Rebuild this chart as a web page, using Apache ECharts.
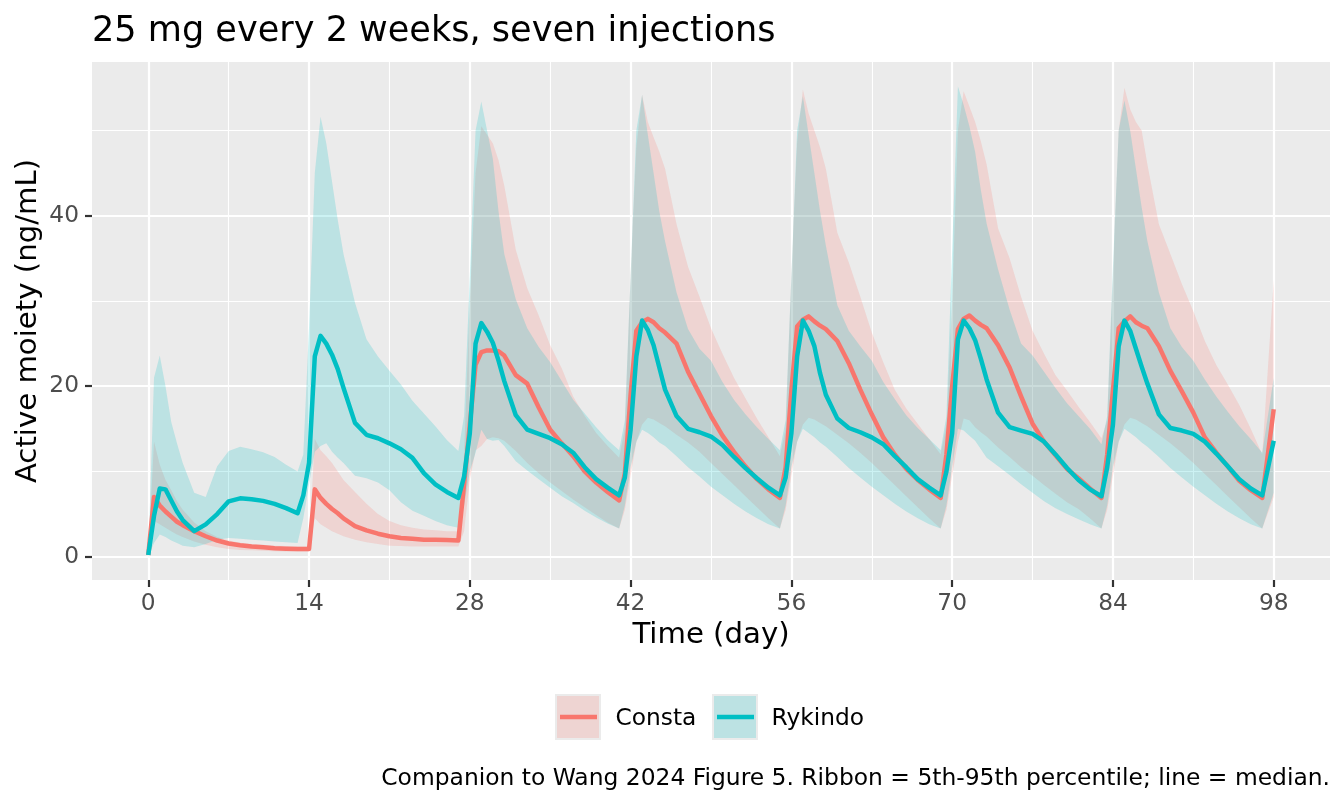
<!DOCTYPE html>
<html><head><meta charset="utf-8">
<script src="https://cdn.jsdelivr.net/npm/echarts@6/dist/echarts.min.js"></script>
<style>html,body{margin:0;padding:0;background:#fff}#c{width:1344px;height:806px}</style>
</head><body><div id="c"></div>
<script>
// ---- data ----
const times = [0,0.5,1,1.5,2,2.5,3,4,5,6,7,8,9,10,11,12,13,13.5,
 14,14.5,15,15.5,16,16.5,17,18,19,20,21,22,23,24,25,26,27,27.5,
 28,28.5,29,29.5,30,30.5,31,32,33,34,35,36,37,38,39,40,41,41.5,
 42,42.5,43,43.5,44,44.5,45,46,47,48,49,50,51,52,53,54,55,55.5,
 56,56.5,57,57.5,58,58.5,59,60,61,62,63,64,65,66,67,68,69,69.5,
 70,70.5,71,71.5,72,72.5,73,74,75,76,77,78,79,80,81,82,83,83.5,
 84,84.5,85,85.5,86,86.5,87,88,89,90,91,92,93,94,95,96,97,98];

const constaMedian = [0.2,7.0,6.0,5.3,4.7,4.1,3.7,3.0,2.4,1.9,1.55,1.35,1.2,1.1,1.0,0.95,0.9,0.9,
 0.9,7.9,6.9,6.2,5.6,5.1,4.5,3.6,3.1,2.7,2.4,2.2,2.1,2.0,2.0,1.95,1.9,8.5,
 15.5,22.5,24.0,24.2,24.2,24.1,23.6,21.3,20.3,17.5,14.9,13.3,11.8,10.0,8.7,7.6,6.6,9.8,
 19.0,26.5,27.5,27.9,27.5,26.8,26.3,25.0,21.7,19.1,16.5,14.2,12.3,10.6,9.1,7.9,6.9,10.5,
 19.5,27.0,27.8,28.2,27.6,27.1,26.7,25.3,22.7,19.6,16.7,14.0,12.0,10.3,9.0,7.9,6.9,12.0,
 20.0,26.7,27.9,28.3,27.7,27.2,26.8,24.8,22.2,18.8,15.6,13.5,11.9,10.3,9.2,8.0,6.9,12.0,
 19.5,26.8,27.6,28.2,27.5,27.1,26.8,24.7,21.8,19.4,16.9,14.0,12.2,10.6,8.9,7.8,6.9,17.3];
const constaLow = [0.0,4.2,3.8,3.4,3.0,2.6,2.3,1.8,1.4,1.1,0.9,0.8,0.75,0.7,0.65,0.6,0.6,0.6,
 0.6,4.5,3.8,3.4,3.0,2.7,2.4,2.0,1.7,1.5,1.3,1.25,1.2,1.2,1.2,1.2,1.2,3.0,
 9.0,12.5,13.0,13.8,14.0,13.9,13.6,12.4,11.0,9.8,8.7,7.7,6.7,5.8,4.9,4.0,3.3,5.5,
 9.5,13.5,15.5,16.3,16.1,15.7,15.3,14.3,13.4,12.3,11.0,9.7,8.4,7.1,5.8,4.5,3.3,5.5,
 9.5,13.5,15.5,16.3,16.1,15.7,15.3,14.3,13.3,12.2,11.0,9.7,8.4,7.1,5.8,4.5,3.3,5.5,
 9.5,13.5,16.2,16.0,15.2,14.6,14.1,12.8,11.7,10.5,9.5,8.4,7.4,6.4,5.6,4.5,3.3,5.5,
 9.5,13.5,15.5,16.3,16.1,15.7,15.3,14.3,13.3,12.2,11.0,9.7,8.4,7.1,5.8,4.5,3.3,7.0];
const constaHigh = [0.2,13.5,10.8,9.0,7.8,6.5,5.5,4.0,3.0,2.3,1.9,1.65,1.5,1.4,1.3,1.25,1.2,1.2,
 1.2,13.8,12.5,11.8,11.0,10.0,9.0,7.6,6.2,5.0,4.2,3.7,3.4,3.2,3.1,3.0,3.0,12.0,
 30.0,45.0,50.5,49.5,48.5,46.5,43.5,36.0,31.5,28.3,24.8,22.1,18.8,16.5,14.5,13.0,11.6,15.0,
 33.0,48.0,54.2,51.0,49.2,47.5,45.5,39.0,34.0,30.5,26.8,23.8,21.0,18.6,16.2,14.0,11.8,15.0,
 33.0,48.5,54.8,52.0,50.0,48.0,45.5,38.0,34.5,30.5,26.3,22.8,19.6,17.4,15.6,13.8,12.0,15.5,
 30.0,50.0,54.6,52.8,51.0,48.7,46.0,38.5,35.0,30.5,26.5,23.8,21.3,19.5,17.6,15.8,13.9,16.0,
 33.0,50.0,55.0,52.5,51.0,50.0,46.0,39.0,35.5,32.0,28.8,25.3,22.5,20.2,17.8,15.0,12.0,32.5];

const rykindoMedian = [0.2,4.8,8.0,7.9,6.6,5.3,4.3,3.0,3.8,5.0,6.5,6.85,6.75,6.55,6.2,5.7,5.1,7.2,
 11.0,23.5,25.9,25.0,23.7,22.0,19.8,15.7,14.3,13.9,13.3,12.6,11.6,9.8,8.5,7.6,6.9,9.4,
 14.5,25.0,27.4,26.4,25.1,23.0,20.6,16.6,14.9,14.4,13.9,13.2,12.2,10.5,9.1,8.1,7.2,9.3,
 14.9,23.5,27.7,26.6,24.8,22.2,19.6,16.5,15.0,14.6,14.1,13.1,11.7,10.4,9.2,8.1,7.2,9.3,
 14.5,23.5,27.7,26.5,24.7,21.5,19.0,16.2,15.1,14.6,14.0,13.2,11.8,10.5,9.1,8.1,7.2,10.0,
 14.5,25.5,27.7,26.8,25.4,23.2,20.8,16.9,15.2,14.8,14.4,13.5,12.0,10.4,9.0,7.9,7.1,10.5,
 15.5,24.7,27.7,26.5,24.4,22.3,20.3,16.7,15.1,14.8,14.4,13.5,12.1,10.6,9.1,8.0,7.2,13.6];
const rykindoLow = [0.0,1.6,2.6,2.3,1.9,1.6,1.3,1.1,1.5,2.0,2.2,2.1,2.0,1.9,1.8,1.7,1.6,4.5,
 8.5,12.3,13.0,13.3,12.3,11.6,11.0,9.5,9.2,8.7,7.8,6.4,5.4,4.8,4.2,3.7,3.4,6.0,
 10.0,12.2,14.9,13.8,13.6,13.7,13.0,11.2,10.1,9.1,8.1,7.1,6.3,5.4,4.6,3.9,3.3,6.0,
 10.5,13.5,14.9,14.5,14.0,13.4,13.0,11.8,10.5,9.4,8.2,7.2,6.2,5.3,4.5,3.8,3.3,6.0,
 10.5,13.5,15.0,14.5,14.0,13.4,12.9,11.7,10.4,9.3,8.2,7.2,6.2,5.3,4.5,3.8,3.3,6.0,
 10.5,15.0,14.8,14.2,13.6,12.6,11.6,10.6,9.6,8.5,7.5,6.5,5.7,5.0,4.4,3.8,3.3,6.0,
 10.5,13.5,15.0,14.5,14.0,13.4,12.9,11.7,10.4,9.3,8.2,7.2,6.2,5.3,4.5,3.8,3.3,7.5];
const rykindoHigh = [0.2,21.0,23.6,20.0,15.8,13.3,11.0,7.5,7.0,10.6,12.4,12.9,12.6,12.25,11.7,10.8,10.0,12.0,
 27.0,45.0,51.6,48.5,44.0,39.5,35.5,29.8,25.5,23.5,21.8,20.2,18.3,16.8,15.3,13.7,12.4,16.5,
 33.0,50.0,53.4,50.0,46.7,40.5,35.5,30.2,26.8,24.6,22.8,20.6,18.4,16.8,15.2,13.7,12.5,16.0,
 33.0,50.0,54.2,49.5,45.0,40.5,37.0,31.0,26.7,24.4,23.0,20.5,18.4,16.7,15.2,13.8,12.5,16.0,
 33.0,50.0,54.0,49.5,45.0,40.5,36.5,29.5,26.5,24.7,23.0,20.5,18.5,16.6,15.1,13.8,12.5,16.5,
 36.0,55.2,53.0,50.5,47.5,43.0,39.1,33.7,29.0,25.0,23.6,21.7,19.8,18.0,16.5,15.0,13.2,16.5,
 34.0,50.0,53.5,50.0,45.5,41.0,37.0,31.0,26.8,24.6,23.0,20.8,18.8,17.0,15.3,13.8,12.2,21.0];

const seriesNames = ['Consta', 'Rykindo'];
const xMajorTicks = [0, 14, 28, 42, 56, 70, 84, 98];
const xMinorTicks = [7, 21, 35, 49, 63, 77, 91];
const yMajorTicks = [0, 20, 40];
const yMinorTicks = [10, 30, 50];

const titleText = '25 mg every 2 weeks, seven injections';
const xTitle = 'Time (day)';
const yTitle = 'Active moiety (ng/mL)';
const captionText = 'Companion to Wang 2024 Figure 5. Ribbon = 5th-95th percentile; line = median.';

// ---- styling ----
const FONT = 'DejaVu Sans';
const lineColors = ['#F8766D', '#00BFC4'];
const ribbonColors = ['rgba(248,118,109,0.2)', 'rgba(0,191,196,0.2)'];

function pairs(ys) { return times.map((t, i) => [t, ys[i]]); }
function triples(lo, hi) { return times.map((t, i) => [t, lo[i], hi[i]]); }

const lows = [constaLow, rykindoLow];
const highs = [constaHigh, rykindoHigh];
const medians = [constaMedian, rykindoMedian];

const series = [];
seriesNames.forEach((n, k) => {
  const rows = triples(lows[k], highs[k]);
  series.push({
    type: 'custom', name: n + ' ribbon', data: rows, silent: true, z: 1, clip: true,
    encode: { x: 0, y: [1, 2] },
    renderItem: function (params, api) {
      if (params.dataIndex !== 0) return null;
      const pts = [];
      for (let i = 0; i < rows.length; i++) pts.push(api.coord([rows[i][0], rows[i][2]]));
      for (let i = rows.length - 1; i >= 0; i--) pts.push(api.coord([rows[i][0], rows[i][1]]));
      return { type: 'polygon', shape: { points: pts }, style: { fill: ribbonColors[k], stroke: null } };
    }
  });
});
seriesNames.forEach((n, k) => {
  series.push({
    type: 'line', name: n, data: pairs(medians[k]), symbol: 'none', z: 3,
    lineStyle: { color: lineColors[k], width: 4.5, cap: 'butt', join: 'round' }
  });
});

const X0 = 92, X1 = 1330, Y0 = 62, Y1 = 580;

function xAxisDef(ticks, major) {
  return {
    type: 'value', min: -4.9, max: 102.9, position: 'bottom',
    axisLine: { show: false, onZero: false },
    axisTick: { show: major, length: 7, lineStyle: { color: '#333333', width: 2.2 }, customValues: ticks },
    axisLabel: { show: major, customValues: ticks, color: '#4D4D4D', fontSize: 23.3, fontFamily: FONT, margin: 12 },
    splitLine: { show: true, lineStyle: { color: '#FFFFFF', width: major ? 2.2 : 1.1 } }
  };
}
function yAxisDef(ticks, major) {
  return {
    type: 'value', min: -2.73, max: 58.03, position: 'left',
    axisLine: { show: false, onZero: false },
    axisTick: { show: major, length: 7, lineStyle: { color: '#333333', width: 2.2 }, customValues: ticks },
    axisLabel: { show: major, customValues: ticks, color: '#4D4D4D', fontSize: 23.3, fontFamily: FONT, margin: 13 },
    splitLine: { show: true, lineStyle: { color: '#FFFFFF', width: major ? 2.2 : 1.1 } }
  };
}

const legendItems = [];
const keyX = [555, 712], textX = [615.5, 771.5];
seriesNames.forEach((n, k) => {
  legendItems.push({ type: 'rect', shape: { x: keyX[k], y: 694, width: 46, height: 46 }, style: { fill: '#EBEBEB' } });
  legendItems.push({ type: 'rect', shape: { x: keyX[k] + 2, y: 696, width: 42, height: 42 }, style: { fill: ribbonColors[k] } });
  legendItems.push({ type: 'line', shape: { x1: keyX[k] + 5, y1: 717, x2: keyX[k] + 42, y2: 717 }, style: { stroke: lineColors[k], lineWidth: 4.5 } });
  legendItems.push({ type: 'text', x: textX[k], y: 718.5, style: { text: n, font: '23.3px "' + FONT + '"', fill: '#000', align: 'left', verticalAlign: 'middle' } });
});

const chart = echarts.init(document.getElementById('c'), null, { renderer: 'canvas' });
chart.setOption({
  animation: false,
  backgroundColor: '#FFFFFF',
  grid: { left: X0, right: 1344 - X1, top: Y0, bottom: 806 - Y1, show: true, backgroundColor: '#EBEBEB', borderWidth: 0, containLabel: false },
  xAxis: [xAxisDef(xMajorTicks, true), xAxisDef(xMinorTicks, false)],
  yAxis: [yAxisDef(yMajorTicks, true), yAxisDef(yMinorTicks, false)],
  series: series,
  graphic: [
    { type: 'text', x: 92, y: 31.8, style: { text: titleText, font: '35.1px "' + FONT + '"', fill: '#000', align: 'left', verticalAlign: 'middle' } },
    { type: 'text', x: (X0 + X1) / 2, y: 635.6, style: { text: xTitle, font: '29.2px "' + FONT + '"', fill: '#000', align: 'center', verticalAlign: 'middle' } },
    { type: 'text', x: 28, y: (Y0 + Y1) / 2, rotation: Math.PI / 2, style: { text: yTitle, font: '29.2px "' + FONT + '"', fill: '#000', align: 'center', verticalAlign: 'middle' } },
    { type: 'text', x: 1330, y: 779, style: { text: captionText, font: '23.4px "' + FONT + '"', fill: '#000', align: 'right', verticalAlign: 'middle' } }
  ].concat(legendItems)
});
</script></body></html>
